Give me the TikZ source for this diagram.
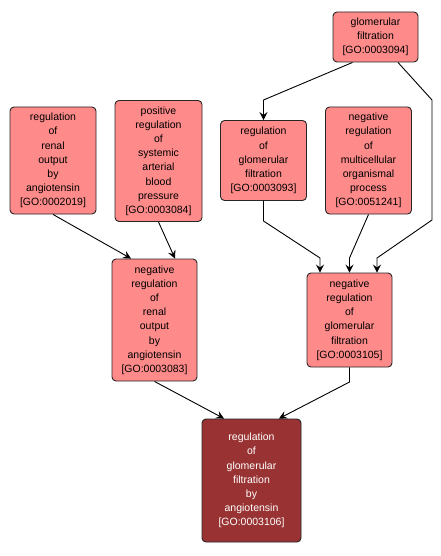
\documentclass[tikz,border=0pt]{standalone}
\usepackage{fontspec}
\setmainfont{Liberation Sans}
\usetikzlibrary{arrows.meta}
\definecolor{lightred}{RGB}{255,138,138}
\definecolor{darkred}{RGB}{153,51,51}
\tikzset{
  goterm/.style={draw=black!85, line width=0.9pt, rounded corners=4pt, fill=lightred,
    align=center, inner sep=0pt, font=\fontsize{10.5pt}{14.2pt}\selectfont},
  goroot/.style={goterm, fill=darkred, text=white},
  link/.style={draw=black, line width=0.9pt, -{Stealth[length=8pt,width=8pt,inset=3pt]}},
}
\begin{document}
\begin{tikzpicture}[x=1pt,y=-1pt]
\useasboundingbox (0,0) rectangle (441,556);
\node[goterm, minimum width=85pt, minimum height=50pt] (n1) at (375.5,37) {glomerular\\filtration\\{[GO:0003094]}};
\node[goterm, minimum width=86pt, minimum height=107pt] (n2) at (53,160.5) {regulation\\of\\renal\\output\\by\\angiotensin\\{[GO:0002019]}};
\node[goterm, minimum width=87pt, minimum height=121pt] (n3) at (158.5,161) {positive\\regulation\\of\\systemic\\arterial\\blood\\pressure\\{[GO:0003084]}};
\node[goterm, minimum width=86pt, minimum height=80pt] (n4) at (263.5,160.5) {regulation\\of\\glomerular\\filtration\\{[GO:0003093]}};
\node[goterm, minimum width=86pt, minimum height=107pt] (n5) at (368.5,160.5) {negative\\regulation\\of\\multicellular\\organismal\\process\\{[GO:0051241]}};
\node[goterm, minimum width=85pt, minimum height=122pt] (n6) at (154.5,320) {negative\\regulation\\of\\renal\\output\\by\\angiotensin\\{[GO:0003083]}};
\node[goterm, minimum width=85pt, minimum height=94pt] (n7) at (349.5,320) {negative\\regulation\\of\\glomerular\\filtration\\{[GO:0003105]}};
\node[goroot, minimum width=99pt, minimum height=123pt] (n8) at (251.5,480.5) {regulation\\of\\glomerular\\filtration\\by\\angiotensin\\{[GO:0003106]}};
\coordinate (b1) at (0,100);
\coordinate (b2) at (0,221);
\coordinate (b3) at (0,258);
\coordinate (b4) at (432,100);
\coordinate (b5) at (432,220);
\coordinate (b6) at (0,382);
\draw[link] (n2.south) -- ([xshift=-23.5pt]n6.north);
\draw[link] (n3.south) -- ([xshift=20.5pt]n6.north);
\draw[link] ([xshift=-23pt]n1.south) -- (n4.north |- b1) -- (n4.north);
\draw[link] ([xshift=22.5pt]n1.south) -- (b4) -- (b5) -- ([xshift=27.5pt]n7.north |- b3) -- ([xshift=27.5pt]n7.north);
\draw[link] (n4.south) -- (n4.south |- b2) -- ([xshift=-29.5pt]n7.north |- b3) -- ([xshift=-29.5pt]n7.north);
\draw[link] (n5.south) -- (n7.north |- b3) -- (n7.north);
\draw[link] (n6.south) -- ([xshift=-27.5pt]n8.north);
\draw[link] (n7.south) -- (n7.south |- b6) -- ([xshift=27.5pt]n8.north);
\end{tikzpicture}
\end{document}
